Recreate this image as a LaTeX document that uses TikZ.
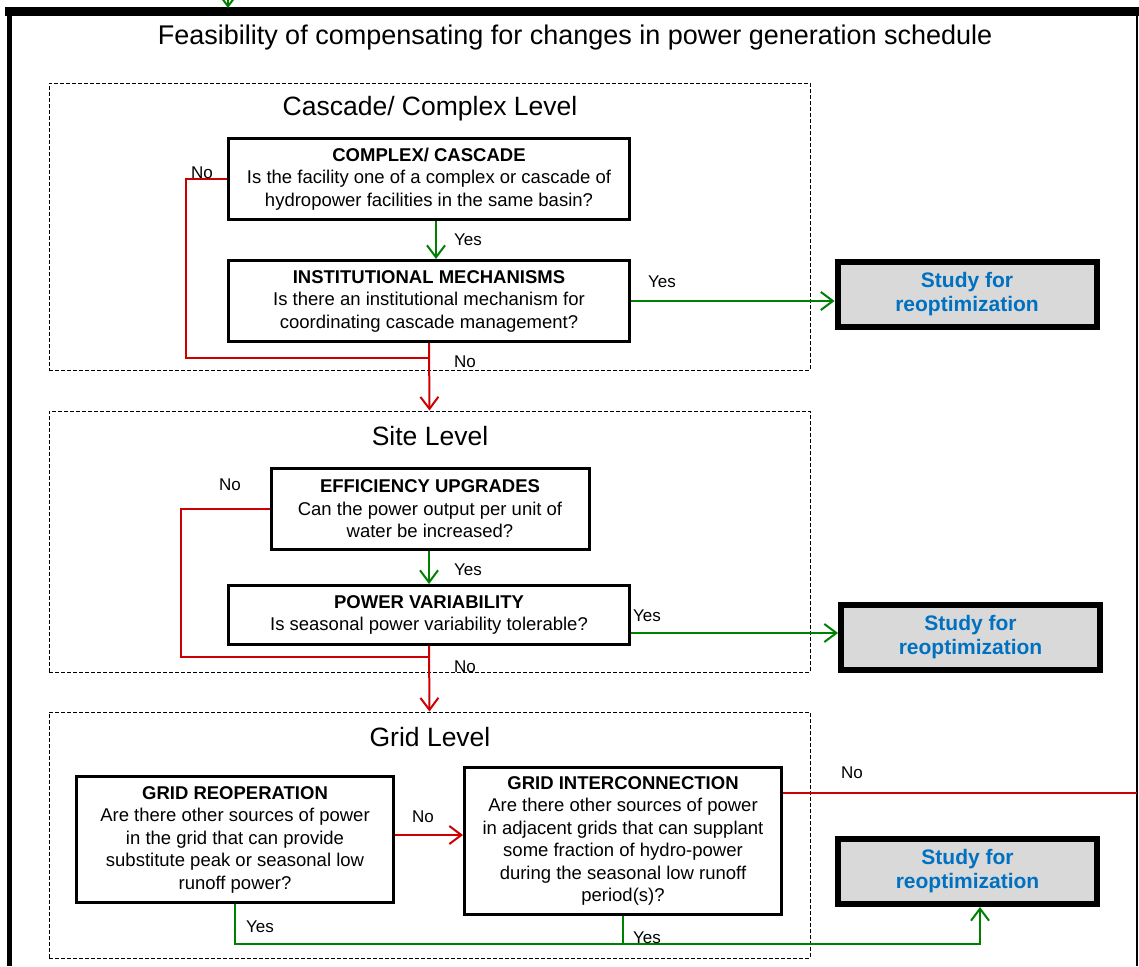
\documentclass[tikz,border=0pt]{standalone}
\usepackage{fontspec}
\setmainfont{Liberation Sans}
\usetikzlibrary{arrows.meta}
\definecolor{flowgreen}{RGB}{0,128,0}
\definecolor{flowred}{RGB}{204,0,0}
\definecolor{studyblue}{RGB}{0,112,192}
\definecolor{studygray}{RGB}{217,217,217}
\begin{document}
\begin{tikzpicture}[x=1pt,y=-1pt,
	qbox/.style={draw,line width=3pt,align=center,inner sep=2pt,font=\fontsize{18.5}{22.5}\selectfont},
	studybox/.style={draw,line width=6pt,fill=studygray,align=center,minimum width=259,minimum height=65,text=studyblue,font=\fontsize{21}{24}\selectfont\bfseries},
	levelbox/.style={draw,line width=1pt,dash pattern=on 4pt off 2pt,minimum width=761},
	yes/.style={draw=flowgreen,line width=2pt},
	no/.style={draw=flowred,line width=2pt},
	lbl/.style={font=\fontsize{17}{20}\selectfont},
	>={Straight Barb[length=12pt,width=18pt]}]
			\useasboundingbox (0,0) rectangle (1139,966);
			% outer frame
			\draw[line width=9pt] (5,11.5) -- (1139,11.5);
			\draw[line width=4.5pt] (9.3,7) -- (9.3,966);
			\draw[line width=1.5pt] (1137,11) -- (1137,966);
			\node[anchor=base,font=\fontsize{27}{30}\selectfont] (title) at (575,45) {Feasibility of compensating for changes in power generation schedule};
			\coordinate (inTop) at (228,-10);
			\coordinate (frameTop) at (228,8);
			\draw[yes,->] (inTop) -- (frameTop);
			% level boxes
			\node[levelbox,minimum height=287] (lvlA) at (429.5,226.5) {};
			\node[levelbox,minimum height=261] (lvlB) at (429.5,541.5) {};
			\node[levelbox,minimum height=246] (lvlC) at (429.5,835) {};
			\node[anchor=base,font=\fontsize{26.5}{30}\selectfont] (ttlA) at (430,115) {Cascade/ Complex Level};
			\node[anchor=base,font=\fontsize{26.5}{30}\selectfont] (ttlB) at (430,445) {Site Level};
			\node[anchor=base,font=\fontsize{26.5}{30}\selectfont] (ttlC) at (430,746) {Grid Level};
			% cascade level
			\node[qbox,minimum width=401,minimum height=81] (cplx) at (429,179) {\textbf{COMPLEX/ CASCADE}\\Is the facility one of a complex or cascade of\\hydropower facilities in the same basin?};
			\node[qbox,minimum width=401,minimum height=81] (inst) at (429,301) {\textbf{INSTITUTIONAL MECHANISMS}\\Is there an institutional mechanism for\\coordinating cascade management?};
			\node[studybox] (studyA) at (967,294.5) {Study for\\reoptimization};
			\coordinate (jA) at (429,358);
			\draw[yes,->] ([xshift=7pt]cplx.south) -- ([xshift=7pt]inst.north);
			\draw[yes,->] (inst.east) -- (inst.east -| studyA.west);
			\draw[no] (cplx.west) -- ++(-41,0) |- (jA);
			\draw[no,->] (inst.south) -- (lvlB.north);
			\node[lbl] (noA1) at (202,173) {No};
			\node[lbl] (yesA1) at (468,240) {Yes};
			\node[lbl] (yesA2) at (662,282) {Yes};
			\node[lbl] (noA2) at (465,362) {No};
			% site level
			\node[qbox,minimum width=318,minimum height=81] (eff) at (430,509) {\textbf{EFFICIENCY UPGRADES}\\Can the power output per unit of\\water be increased?};
			\node[qbox,minimum width=401,minimum height=59] (pvar) at (429,615) {\textbf{POWER VARIABILITY}\\Is seasonal power variability tolerable?};
			\node[studybox] (studyB) at (970.5,637.5) {Study for\\reoptimization};
			\coordinate (jB) at (429,657);
			\draw[yes,->] (eff.south -| pvar.north) -- (pvar.north);
			\draw[yes,->] ([yshift=4.5pt]pvar.east |- studyB.west) -- ([yshift=4.5pt]studyB.west);
			\draw[no] (eff.west) -- ++(-89,0) |- (jB);
			\draw[no,->] (pvar.south) -- (lvlC.north);
			\node[lbl] (noB1) at (230,485) {No};
			\node[lbl] (yesB1) at (468,570) {Yes};
			\node[lbl] (yesB2) at (647,616) {Yes};
			\node[lbl] (noB2) at (465,667) {No};
			% grid level
			\node[qbox,minimum width=317,minimum height=126] (reop) at (235,839.5) {\textbf{GRID REOPERATION}\\Are there other sources of power\\in the grid that can provide\\substitute peak or seasonal low\\runoff power?};
			\node[qbox,minimum width=317,minimum height=147] (gint) at (623,841) {\textbf{GRID INTERCONNECTION}\\Are there other sources of power\\in adjacent grids that can supplant\\some fraction of hydro-power\\during the seasonal low runoff\\period(s)?};
			\node[studybox] (studyC) at (967.5,871.5) {Study for\\reoptimization};
			\coordinate (jC) at (623,944);
			\coordinate (outR) at (1137,793);
			\draw[no,->] ([yshift=4.5pt]reop.east) -- ([yshift=4.5pt]reop.east -| gint.west);
			\draw[no] (gint.east |- outR) -- (outR);
			\draw[yes] (gint.south) -- (jC);
			\draw[yes,->] (reop.south) |- (jC) -| ([xshift=12.5pt]studyC.south);
			\node[lbl] (noC1) at (423,817) {No};
			\node[lbl] (noC2) at (852,773) {No};
			\node[lbl] (yesC1) at (260,927) {Yes};
			\node[lbl] (yesC2) at (647,938) {Yes};
\end{tikzpicture}
\end{document}
